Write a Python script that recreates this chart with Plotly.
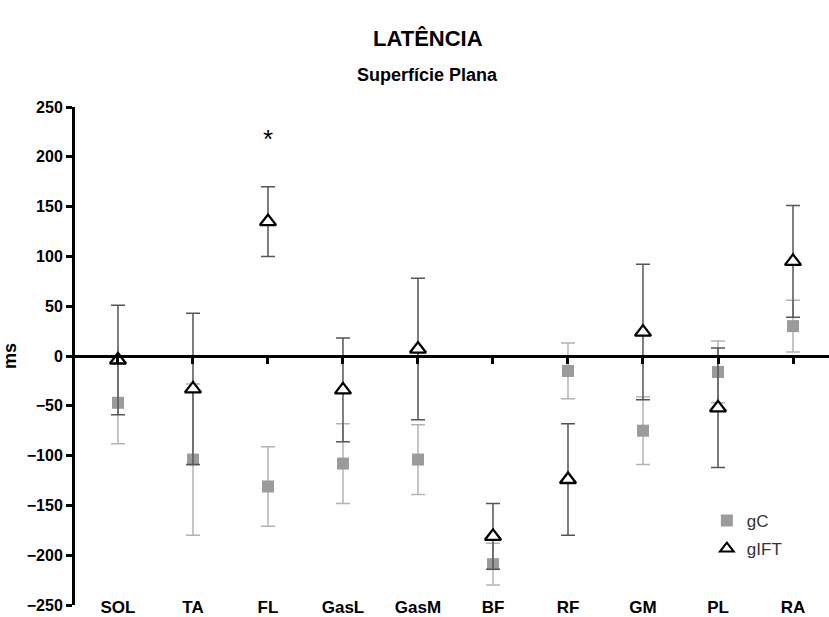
import plotly.graph_objects as go

categories = ["SOL", "TA", "FL", "GasL", "GasM", "BF", "RF", "GM", "PL", "RA"]
gC_mean = [-47, -104, -131, -108, -104, -209, -15, -75, -16, 30]
gC_err = [41, 76, 40, 40, 35, 21, 28, 34, 31, 26]
gIFT_mean = [-4, -33, 135, -34, 7, -181, -124, 24, -52, 95]
gIFT_err = [55, 76, 35, 52, 71, 33, 56, 68, 60, 56]
y_ticks = [250, 200, 150, 100, 50, 0, -50, -100, -150, -200, -250]
sig_category = "FL"
sig_y = 218

FONT = "Liberation Sans, Arial, sans-serif"

fig = go.Figure()
fig.add_trace(go.Scatter(
    x=categories, y=gC_mean, mode="markers", name="gC", legendgroup="a",
    marker=dict(symbol="square", size=12, color="#9b9b9b", line=dict(width=0)),
    error_y=dict(type="data", array=gC_err, visible=True, color="#b3b3b3", thickness=1.5, width=7),
))
fig.add_trace(go.Scatter(
    x=categories, y=gIFT_mean, mode="markers", name="gIFT", legendgroup="b",
    marker=dict(symbol="triangle-up", size=14, color="white", line=dict(width=2.3, color="black")),
    error_y=dict(type="data", array=gIFT_err, visible=True, color="#555555", thickness=1.5, width=7),
))
# helper trace for the zero-crossing axis
fig.add_trace(go.Scatter(x=categories, y=[None] * len(categories), xaxis="x2",
                         showlegend=False, hoverinfo="skip", mode="markers"))

fig.add_annotation(x=sig_category, y=sig_y, text="*", showarrow=False,
                   font=dict(family=FONT, size=26, color="black"))

fig.add_annotation(xref="paper", yref="paper", x=0.468, y=1.0, yshift=69, yanchor="middle",
                   text="LATÊNCIA", showarrow=False,
                   font=dict(family=FONT, size=22, color="black", weight="bold"))
fig.add_annotation(xref="paper", yref="paper", x=0.468, y=1.0, yshift=32, yanchor="middle",
                   text="Superfície Plana", showarrow=False,
                   font=dict(family=FONT, size=18, color="black", weight="bold"))

xr = [-0.573, 9.48]
fig.update_layout(
    width=829, height=617,
    margin=dict(l=75, r=0, t=107, b=10),
    paper_bgcolor="white", plot_bgcolor="white",
    showlegend=True,
    legend=dict(x=0.838, y=0.205, xanchor="left", yanchor="top",
                font=dict(family=FONT, size=17, color="#333333"),
                bgcolor="rgba(0,0,0,0)", itemsizing="constant", tracegroupgap=3),
    xaxis=dict(type="category", range=xr, anchor="free", position=0.02,
               showline=False, showgrid=False, zeroline=False, ticks="",
               tickfont=dict(family=FONT, size=17, color="black", weight="bold")),
    xaxis2=dict(type="category", matches="x", overlaying="x", anchor="free", position=0.5,
                showline=True, linecolor="black", linewidth=3,
                ticks="outside", ticklen=6, tickwidth=3, tickcolor="black",
                showticklabels=False, showgrid=False, zeroline=False),
    yaxis=dict(range=[-250, 250], tickvals=y_ticks, showgrid=False, zeroline=False,
               showline=True, linecolor="black", linewidth=3,
               ticks="outside", ticklen=6, tickwidth=2.5, tickcolor="black",
               tickfont=dict(family=FONT, size=16, color="black", weight="bold"),
               title=dict(text="ms", standoff=12,
                          font=dict(family=FONT, size=18, color="black", weight="bold"))),
)

fig.write_html("out.html")
